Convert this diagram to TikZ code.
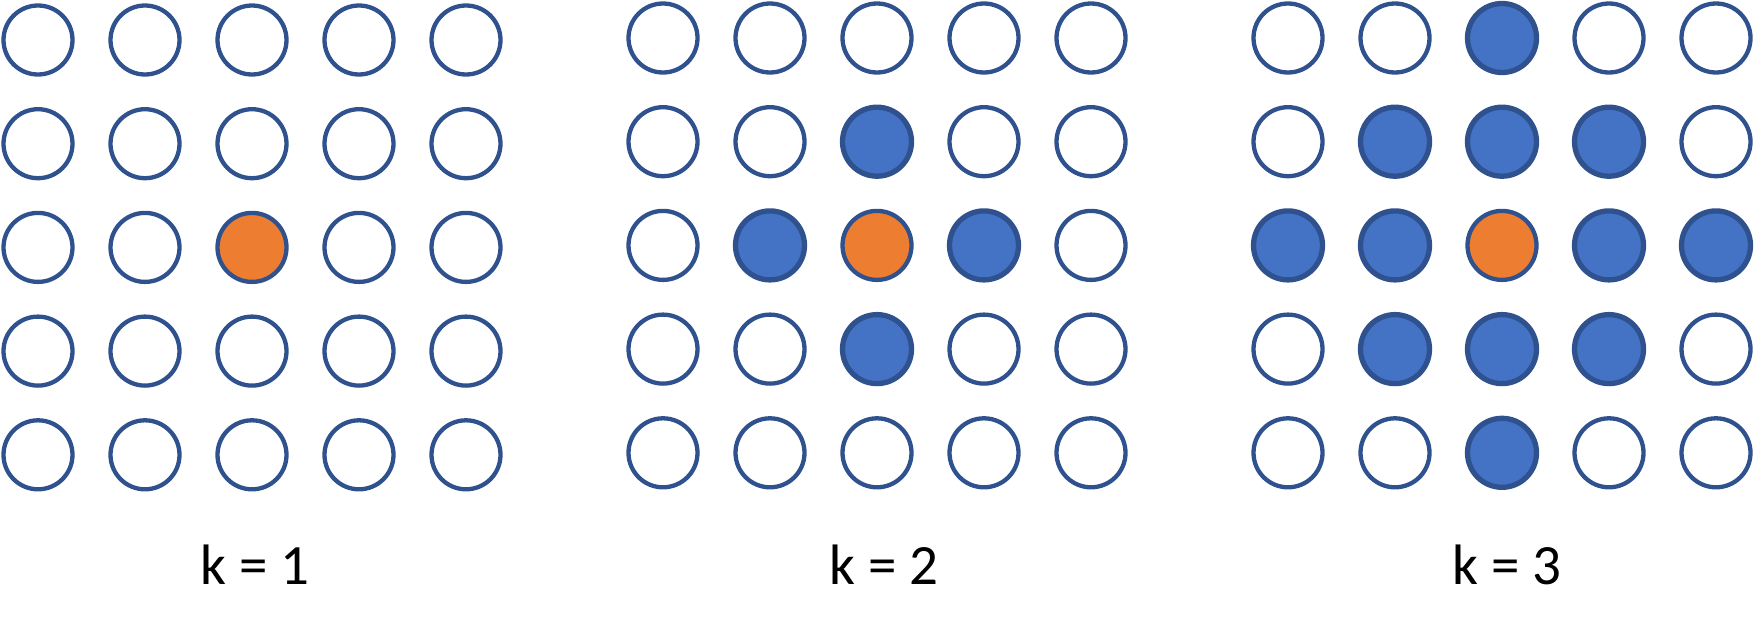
\documentclass[tikz,border=0pt]{standalone}
\usepackage{fontspec}
\setmainfont{Carlito}
\definecolor{ring}{HTML}{2F528F}
\definecolor{dotblue}{HTML}{4472C4}
\definecolor{dotorange}{HTML}{ED7D31}
\begin{document}
\begin{tikzpicture}[x=1pt,y=-1pt,
  cell/.style={circle,draw=ring,fill=white,line width=4.3pt,minimum size=69pt,inner sep=0pt},
  hit/.style={cell,fill=dotblue,line width=5.3pt},
  centre/.style={cell,fill=dotorange},
  lbl/.style={anchor=base,inner sep=0pt,font=\fontsize{57}{66}\selectfont}]
\useasboundingbox (0,0) rectangle (1754,635);
\foreach \g/\x/\y/\k in {1/38/40/1, 2/663/38/2, 3/1288/38/3} {
  \foreach \r in {1,...,5} {
    \foreach \c in {1,...,5} {
      \pgfmathtruncatemacro\d{abs(\r-3)+abs(\c-3)}
      \ifnum\d=0 \def\st{centre}\else\ifnum\d<\k \def\st{hit}\else\def\st{cell}\fi\fi
      \node[\st] (g\g-\r-\c) at ({\x+(\c-1)*107},{\y+(\r-1)*103.7}) {};
    }
  }
}
\node[lbl] (lab1) at (255,584) {k = 1};
\node[lbl] (lab2) at (884,584) {k = 2};
\node[lbl] (lab3) at (1507,584) {k = 3};
\end{tikzpicture}
\end{document}
